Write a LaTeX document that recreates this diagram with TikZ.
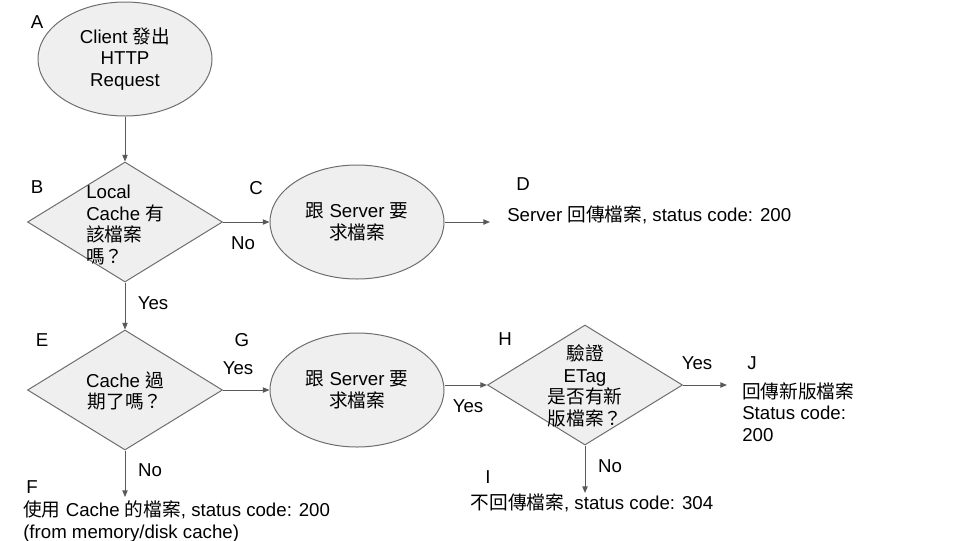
\documentclass[tikz,border=0pt]{standalone}
\usepackage{fontspec}
\setmainfont{Liberation Sans}
\newfontfamily\cjkfont{Noto Sans CJK TC}
\newcommand{\zhtext}[1]{{\cjkfont #1}}
\usetikzlibrary{shapes.geometric,arrows.meta}
\definecolor{shapefill}{HTML}{EFEFEF}
\definecolor{shapeline}{HTML}{6E6E6E}
\definecolor{arrowline}{HTML}{595959}
\begin{document}
\begin{tikzpicture}[x=0.75pt,y=-0.75pt,
  every node/.style={font=\fontsize{14}{16.1}\selectfont, text=black},
  ell/.style={ellipse, draw=shapeline, fill=shapefill, line width=0.75pt, minimum width=130.5pt, minimum height=85.5pt, inner sep=0pt, align=center},
  dia/.style={diamond, draw=shapeline, fill=shapefill, line width=0.75pt, minimum width=146.25pt, minimum height=90pt, inner sep=0pt},
  arr/.style={draw=arrowline, line width=0.75pt, -{Triangle[length=5pt,width=4pt]}},
  lbl/.style={inner sep=0pt},
  txt/.style={inner sep=0pt, align=left},
  ctxt/.style={inner sep=0pt, align=center},
]
\path[use as bounding box] (0,0) rectangle (960,540);

% shapes
\node[ell] (A) at (125,59) {Client \zhtext{發出}\\HTTP\\Request};
\node[dia] (B) at (125,222) {};
\node[ell] (C) at (357,222) {\zhtext{跟} Server \zhtext{要}\\\zhtext{求檔案}};
\node[dia] (E) at (125,390) {};
\node[ell] (G) at (357,390) {\zhtext{跟} Server \zhtext{要}\\\zhtext{求檔案}};
\node[dia] (H) at (585,385) {};

% texts inside diamonds
\node[txt, anchor=west] (Bt) at (86,225) {Local\\Cache \zhtext{有}\\\zhtext{該檔案}\\\zhtext{嗎？}};
\node[ctxt] (Et) at (125,391) {Cache \zhtext{過}\\\zhtext{期了嗎？}};
\node[ctxt] (Ht) at (585,386) {\zhtext{驗證}\\ETag\\\zhtext{是否有新}\\\zhtext{版檔案？}};

% result texts
\node[txt, anchor=west] (D) at (507,215) {Server \zhtext{回傳檔案}, status code: 200};
\node[txt, anchor=west] (J) at (742,412) {\zhtext{回傳新版檔案}\\Status code:\\200};
\node[ctxt] (I) at (592,503) {\zhtext{不回傳檔案}, status code: 304};
\node[txt, anchor=west] (F) at (23,521.5) {\zhtext{使用} Cache \zhtext{的檔案}, status code: 200\\(from memory/disk cache)};

% letter labels
\node[lbl] (lA) at (37,22) {A};
\node[lbl] (lB) at (37,187) {B};
\node[lbl] (lC) at (256,188) {C};
\node[lbl] (lD) at (523,184) {D};
\node[lbl] (lE) at (42,340) {E};
\node[lbl] (lF) at (32,487) {F};
\node[lbl] (lG) at (242,340) {G};
\node[lbl] (lH) at (505,339) {H};
\node[lbl] (lI) at (488,477) {I};
\node[lbl] (lJ) at (752,363) {J};

% arrow end points
\coordinate (dend) at (490,222);
\coordinate (jend) at (727,385);
\coordinate (iend) at (585,493);
\coordinate (fend) at (125,497);

% connectors
\draw[arr] (A.south) -- (B.north);
\draw[arr] (B.east) -- (C.west);
\draw[arr] (C.east) -- (dend);
\draw[arr] (B.south) -- (E.north);
\draw[arr] (E.east) -- (G.west);
\draw[arr] (G.east |- H.west) -- (H.west);
\draw[arr] (H.east) -- (jend);
\draw[arr] (H.south) -- (iend);
\draw[arr] (E.south) -- (fend);

% connector labels
\node[lbl] (nBC) at (243,243) {No};
\node[lbl] (yBE) at (153,303) {Yes};
\node[lbl] (yEG) at (238,368) {Yes};
\node[lbl] (yGH) at (468,406) {Yes};
\node[lbl] (yHJ) at (697,363) {Yes};
\node[lbl] (nHI) at (610,466) {No};
\node[lbl] (nEF) at (150,470) {No};
\end{tikzpicture}
\end{document}
